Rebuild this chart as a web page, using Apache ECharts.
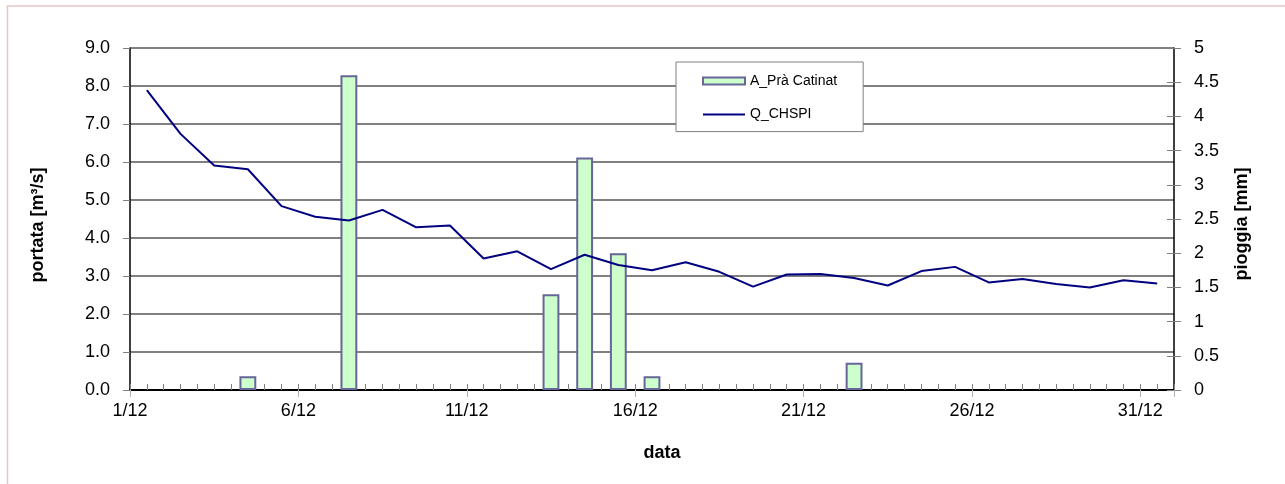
<!DOCTYPE html>
<html>
<head>
<meta charset="utf-8">
<script src="https://cdn.jsdelivr.net/npm/echarts@6/dist/echarts.min.js"></script>
<style>
html,body{margin:0;padding:0;background:#fff;}
#main{width:1285px;height:484px;}
</style>
</head>
<body>
<div id="main"></div>
<script>
// ---- DATA ----
const days = ['1/12','2/12','3/12','4/12','5/12','6/12','7/12','8/12','9/12','10/12',
  '11/12','12/12','13/12','14/12','15/12','16/12','17/12','18/12','19/12','20/12',
  '21/12','22/12','23/12','24/12','25/12','26/12','27/12','28/12','29/12','30/12','31/12'];
const rainPraCatinat = [0,0,0,0.2,0,0,4.6,0,0,0,
  0,0,1.4,3.4,2.0,0.2,0,0,0,0,
  0,0.4,0,0,0,0,0,0,0,0,0];
const flowCHSPI = [7.89,6.74,5.91,5.81,4.84,4.56,4.46,4.74,4.28,4.33,
  3.46,3.65,3.18,3.56,3.29,3.15,3.36,3.11,2.72,3.04,
  3.05,2.95,2.75,3.13,3.24,2.83,2.92,2.79,2.70,2.89,2.80];
const xTickLabels = ['1/12','6/12','11/12','16/12','21/12','26/12','31/12'];
const seriesNames = ['A_Prà Catinat','Q_CHSPI'];
const xTitle = 'data';
const yLeftTitle = 'portata [m³/s]';
const yRightTitle = 'pioggia [mm]';

const FONT = "'Liberation Sans', Arial, sans-serif";
const chart = echarts.init(document.getElementById('main'));
const grey = '#808080';

chart.setOption({
  backgroundColor: '#ffffff',
  animation: false,
  textStyle: { fontFamily: FONT },
  graphic: [{
    type: 'rect', silent: true, z: -10,
    shape: { x: 7.5, y: 6, width: 1300, height: 500 },
    style: { fill: 'none', stroke: '#e8c6c6', lineWidth: 1.5 }
  }],
  grid: { left: 130, right: 111, top: 48, bottom: 94, containLabel: false },
  legend: {
    orient: 'vertical', left: 676, top: 62,
    padding: [11, 26, 9, 26], itemGap: 17.6,
    itemWidth: 42, itemHeight: 7,
    borderColor: grey, borderWidth: 1, backgroundColor: '#ffffff',
    textStyle: { fontSize: 14, color: '#000', fontFamily: FONT, lineHeight: 16 },
    data: [
      { name: seriesNames[0], icon: 'rect' },
      { name: seriesNames[1], itemStyle: { color: 'rgba(0,0,0,0)', borderWidth: 0, opacity: 0 } }
    ]
  },
  xAxis: [
    { type: 'category', data: days, boundaryGap: true, show: false, gridIndex: 0,
      position: 'bottom', axisLine: { onZero: false } },
    { type: 'value', min: 0, max: 31, interval: 5, position: 'bottom', gridIndex: 0,
      axisLine: { show: true, onZero: false, lineStyle: { color: '#000', width: 2 } },
      axisTick: { show: true, inside: false, length: 7, lineStyle: { color: '#b0b0b0', width: 1 } },
      axisLabel: { show: true, fontSize: 18, color: '#000', margin: 12, fontFamily: FONT,
        formatter: v => (Math.abs(v / 5 - Math.round(v / 5)) < 1e-6 ? (xTickLabels[Math.round(v / 5)] || '') : '') },
      splitLine: { show: false },
      name: xTitle, nameLocation: 'middle', nameGap: 54,
      nameTextStyle: { fontSize: 18, fontWeight: 'bold', color: '#000', fontFamily: FONT, padding: [0, 0, 0, 20] }
    },
    { type: 'value', min: 0, max: 31, interval: 0.5, position: 'bottom', gridIndex: 0,
      axisLine: { show: false, onZero: false },
      axisTick: { show: true, inside: true, length: 6, lineStyle: { color: grey, width: 1 } },
      axisLabel: { show: false }, splitLine: { show: false }
    }
  ],
  yAxis: [
    { type: 'value', min: 0, max: 9, interval: 1, position: 'left',
      axisLine: { show: true, onZero: false, lineStyle: { color: '#000', width: 1.5 } },
      axisTick: { show: true, inside: false, length: 7, lineStyle: { color: grey } },
      axisLabel: { fontSize: 18, color: '#000', margin: 20, fontFamily: FONT, formatter: v => v.toFixed(1) },
      splitLine: { show: true, lineStyle: { color: grey, width: 2 } },
      name: yLeftTitle, nameLocation: 'middle', nameGap: 83, nameRotate: 90,
      nameTextStyle: { fontSize: 18, fontWeight: 'bold', color: '#000', fontFamily: FONT, padding: [0, 12, 0, 0] }
    },
    { type: 'value', min: 0, max: 5, interval: 0.5, position: 'right',
      axisLine: { show: true, onZero: false, lineStyle: { color: '#000', width: 1.5 } },
      axisTick: { show: true, inside: false, length: 7, lineStyle: { color: grey } },
      axisLabel: { fontSize: 18, color: '#000', margin: 20, fontFamily: FONT },
      splitLine: { show: false },
      name: yRightTitle, nameLocation: 'middle', nameGap: 59, nameRotate: 90,
      nameTextStyle: { fontSize: 18, fontWeight: 'bold', color: '#000', fontFamily: FONT, padding: [0, 10, 0, 0] }
    },
    { type: 'value', min: 0, max: 5, interval: 0.5, position: 'right',
      axisLine: { show: false, onZero: false },
      axisTick: { show: true, inside: true, length: 7, lineStyle: { color: grey } },
      axisLabel: { show: false }, splitLine: { show: false }
    }
  ],
  series: [
    { name: seriesNames[0], type: 'bar', xAxisIndex: 0, yAxisIndex: 1,
      data: rainPraCatinat.map(v => (v === 0 ? null : v)),
      barWidth: '50%', z: 2,
      itemStyle: { color: '#ccffcc', borderColor: '#666699', borderWidth: 2 } },
    { name: seriesNames[1], type: 'line', xAxisIndex: 0, yAxisIndex: 0, data: flowCHSPI,
      symbol: 'none', z: 3,
      lineStyle: { color: '#000080', width: 2 }, itemStyle: { color: '#000080' } }
  ]
});
</script>
</body>
</html>
